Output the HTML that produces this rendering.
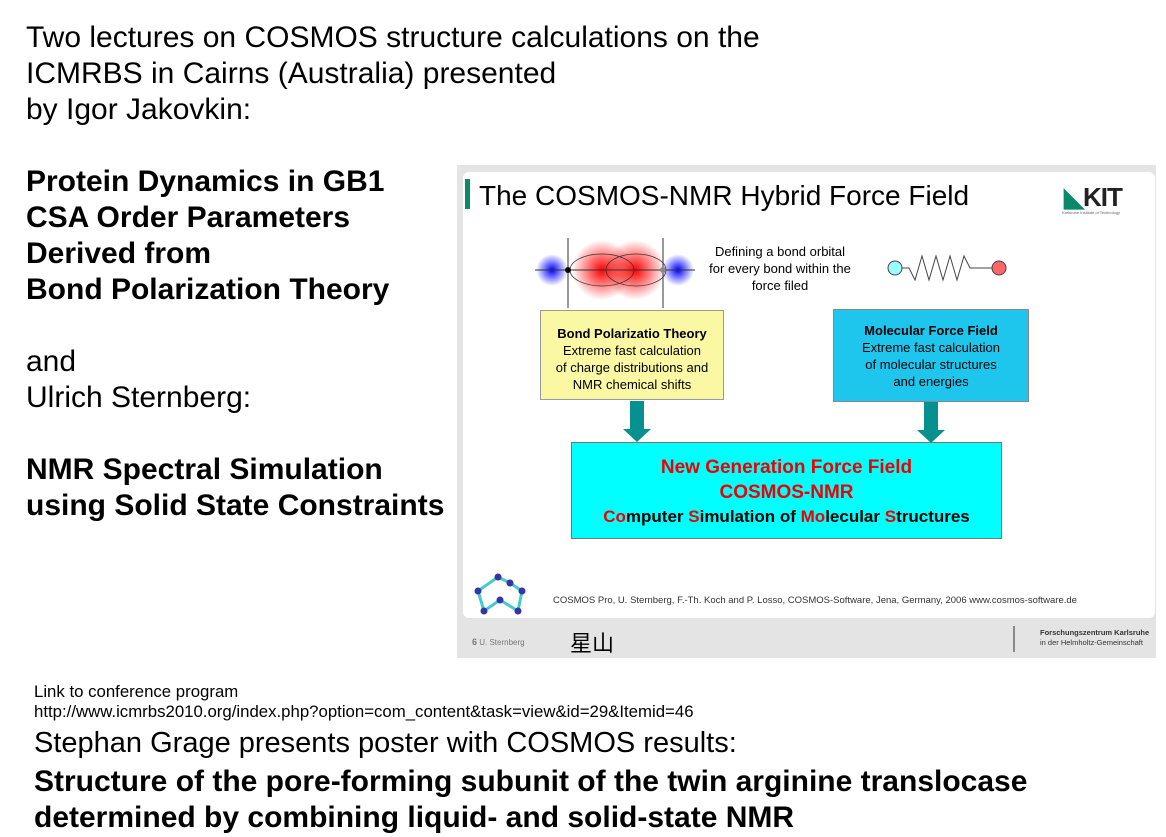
<!DOCTYPE html>
<html><head><meta charset="utf-8"><style>
body{margin:0;width:1166px;height:837px;background:#fff;position:relative;overflow:hidden;font-family:"Liberation Sans",Arial,sans-serif;color:#000}
.t{position:absolute;white-space:nowrap;left:26px}
.n{font-size:30px}
.b{font-size:30px;font-weight:bold}
.s{font-size:16.8px}
.a{position:absolute}
.c{text-align:center;white-space:nowrap}
</style></head><body>
<div class="t n" style="top:20px;line-height:36px">Two lectures on COSMOS structure calculations on the<br>ICMRBS in Cairns (Australia) presented<br>by Igor Jakovkin:</div>
<div class="t b" style="top:164px;line-height:36px">Protein Dynamics in GB1<br>CSA Order Parameters<br>Derived from<br>Bond Polarization Theory</div>
<div class="t n" style="top:344px;line-height:36px">and<br>Ulrich Sternberg:</div>
<div class="t b" style="top:452px;line-height:36px">NMR Spectral Simulation<br>using Solid State Constraints</div>
<div class="t s" style="left:34px;top:682px;line-height:20px">Link to conference program<br>http://www.icmrbs2010.org/index.php?option=com_content&amp;task=view&amp;id=29&amp;Itemid=46</div>
<div class="t" style="left:34px;top:727px;font-size:29px">Stephan Grage presents poster with COSMOS results:</div>
<div class="t b" style="left:34px;top:764px;line-height:36px">Structure of the pore-forming subunit of the twin arginine translocase<br>determined by combining liquid- and solid-state NMR</div>

<div class="a" style="left:457px;top:165px;width:699px;height:493px;background:#e4e4e4"></div>
<div class="a" style="left:463px;top:172px;width:692px;height:446px;background:#fff;border-radius:6px"></div>
<div class="a" style="left:465px;top:179px;width:5px;height:30px;background:#0a8a6a"></div>
<div class="a" style="left:479px;top:180px;font-size:28px;white-space:nowrap">The COSMOS-NMR Hybrid Force Field</div>
<div class="a" style="left:1064px;top:182px;font-size:26px;font-weight:bold;color:#222;letter-spacing:-1px"><span style="color:#0a8a6a">◣</span>KIT</div>
<div class="a" style="left:1062px;top:210px;font-size:4px;color:#666">Karlsruhe Institute of Technology</div>

<svg class="a" style="left:535px;top:230px" width="160" height="80">
<defs><radialGradient id="r"><stop offset="0" stop-color="#f00"/><stop offset="1" stop-color="#f00" stop-opacity="0"/></radialGradient>
<radialGradient id="u"><stop offset="0" stop-color="#00f"/><stop offset="1" stop-color="#00f" stop-opacity="0"/></radialGradient></defs>
<circle cx="17" cy="40" r="16" fill="url(#u)"/><circle cx="143" cy="40" r="16" fill="url(#u)"/>
<circle cx="67" cy="40" r="30" fill="url(#r)"/><circle cx="100" cy="40" r="30" fill="url(#r)"/>
<ellipse cx="67" cy="40" rx="32" ry="16" fill="none" stroke="#333" stroke-width=".8"/>
<ellipse cx="101" cy="40" rx="30" ry="16" fill="none" stroke="#333" stroke-width=".8"/>
<line x1="0" y1="40" x2="160" y2="40" stroke="#333"/>
<line x1="33" y1="8" x2="33" y2="78" stroke="#333"/><line x1="128" y1="8" x2="128" y2="78" stroke="#333"/>
<circle cx="33" cy="40" r="3"/><circle cx="128" cy="40" r="3" fill="#888"/>
</svg>
<div class="a c" style="left:700px;top:243px;width:160px;font-size:13px;line-height:17px">Defining a bond orbital<br>for every bond within the<br>force filed</div>
<svg class="a" style="left:885px;top:248px" width="125" height="40">
<polyline points="10,20 24,20 30,32 37,8 44,32 51,8 58,32 65,8 72,32 79,8 85,20 112,20" fill="none" stroke="#444"/>
<circle cx="10" cy="20" r="7" fill="#9ff" stroke="#444"/><circle cx="114" cy="20" r="7" fill="#f66" stroke="#444"/>
</svg>

<div class="a c" style="left:540px;top:310px;width:184px;height:90px;background:#fbf8a4;border:1px solid #999;font-size:13px;line-height:17px;padding-top:14px;box-sizing:border-box"><b>Bond Polarizatio Theory</b><br>Extreme fast calculation<br>of charge distributions and<br>NMR chemical shifts</div>
<div class="a c" style="left:833px;top:309px;width:196px;height:93px;background:#1ec6ee;border:1px solid #888;font-size:13px;line-height:17px;padding-top:12px;box-sizing:border-box"><b>Molecular Force Field</b><br>Extreme fast calculation<br>of molecular structures<br>and energies</div>

<svg class="a" style="left:620px;top:401px" width="34" height="42"><rect x="10" y="0" width="14" height="28" fill="#079090"/><polygon points="3,28 31,28 17,41" fill="#079090"/></svg>
<svg class="a" style="left:914px;top:402px" width="34" height="42"><rect x="10" y="0" width="14" height="28" fill="#079090"/><polygon points="3,28 31,28 17,41" fill="#079090"/></svg>

<div class="a c" style="left:571px;top:442px;width:431px;height:97px;background:#00ffff;border:1px solid #777;box-sizing:border-box;font-weight:bold;color:#e00;font-size:19px;line-height:25px;padding-top:12px">New Generation Force Field<br>COSMOS-NMR</div>
<div class="a c" style="left:571px;top:507px;width:431px;font-weight:bold;font-size:17px"><span style="color:#e00">Co</span>mputer <span style="color:#e00">S</span>imulation of <span style="color:#e00">Mo</span>lecular <span style="color:#e00">S</span>tructures</div>

<svg class="a" style="left:472px;top:573px" width="72" height="42">
<polyline points="6,18 12,38 28,27 46,38 50,18 38,10 26,4 6,18" fill="none" stroke="#4cc" stroke-width="3"/>
<g fill="#33a"><circle cx="6" cy="18" r="3.5"/><circle cx="12" cy="38" r="3.5"/><circle cx="28" cy="27" r="3.5"/><circle cx="46" cy="38" r="3.5"/><circle cx="50" cy="18" r="3.5"/><circle cx="26" cy="4" r="3.5"/><circle cx="38" cy="10" r="3.5"/></g>
</svg>
<div class="a" style="left:553px;top:595px;font-size:9.5px;color:#333;white-space:nowrap">COSMOS Pro, U. Sternberg, F.-Th. Koch and P. Losso, COSMOS-Software, Jena, Germany, 2006 www.cosmos-software.de</div>
<div class="a" style="left:472px;top:637px;font-size:8px;color:#777;white-space:nowrap"><b style="font-size:9px">6</b> U. Sternberg</div>
<div class="a" style="left:570px;top:626px;font-size:22px;font-family:'Noto Sans CJK SC',sans-serif">星山</div>
<div class="a" style="left:1013px;top:626px;width:8px;height:26px;border-left:2px solid #888"></div>
<div class="a" style="left:1040px;top:628px;font-size:7.5px;line-height:10px;color:#333;white-space:nowrap"><b>Forschungszentrum Karlsruhe</b><br>in der Helmholtz-Gemeinschaft</div>
</body></html>
